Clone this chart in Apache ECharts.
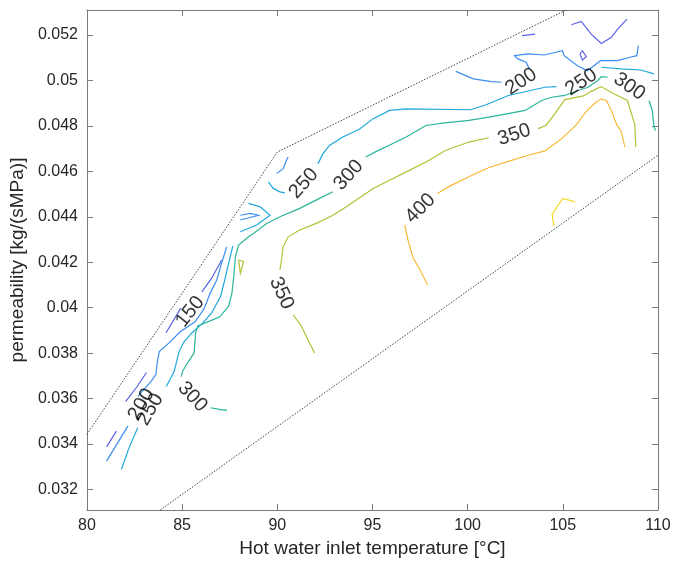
<!DOCTYPE html>
<html>
<head>
<meta charset="utf-8">
<script src="https://cdn.jsdelivr.net/npm/echarts@6/dist/echarts.min.js"></script>
<style>
html,body{margin:0;padding:0;background:#fff;}
#chart{width:688px;height:564px;}
</style>
</head>
<body>
<div id="chart"></div>
<script>
// ---- axis ticks ----
const xTicks = [80, 85, 90, 95, 100, 105, 110];
const yTicks = [0.032, 0.034, 0.036, 0.038, 0.04, 0.042, 0.044, 0.046, 0.048, 0.05, 0.052];

// ---- contour levels (each: list of polyline segments of [temperature, permeability]) ----
const contourLevels = [150, 200, 250, 300, 350, 400, 450];

const level150 = [
  [[102.85,0.05197],[103.54,0.05204]],
  [[105.45,0.05245],[105.97,0.0526],[106.49,0.05204],[107.02,0.05163],[107.54,0.05189],[107.88,0.05226],[108.37,0.0527]],
  [[105.90,0.05117],[106.03,0.05131],[106.23,0.05105],[106.03,0.0509],[105.90,0.05117]],
  [[81.03,0.03388],[81.55,0.03457]],
  [[82.03,0.03587],[82.60,0.03649],[83.13,0.03715]],
  [[84.15,0.03889],[84.93,0.03998]],
  [[86.04,0.0407],[86.56,0.04131],[87.08,0.0421]]
];

const level200 = [
  [[99.38,0.0504],[100.30,0.05007],[101.25,0.04995],[101.77,0.04992]],
  [[103.24,0.05051],[103.07,0.0508],[102.64,0.05095],[102.46,0.05109],[103.16,0.05117],[104.03,0.05112],[104.98,0.05131],[105.07,0.05109],[105.77,0.05065],[106.29,0.05043],[106.98,0.05087],[107.85,0.05087],[108.54,0.05102],[108.89,0.05109],[108.97,0.05153]],
  [[89.96,0.0459],[90.31,0.04612],[90.48,0.04649],[90.57,0.04663]],
  [[88.06,0.04407],[88.58,0.04415],[89.01,0.04407],[88.06,0.04386]],
  [[87.34,0.04267],[87.03,0.04184],[86.82,0.04122],[86.46,0.04061],[86.15,0.03995],[85.68,0.03938],[84.90,0.03894],[84.27,0.03842],[83.80,0.03807],[83.70,0.03763],[83.62,0.03706],[83.37,0.03676],[82.67,0.0361]],
  [[82.15,0.03479],[81.03,0.03325]]
];

const level250 = [
  [[89.53,0.04554],[89.79,0.04525],[90.14,0.0451],[90.40,0.04505]],
  [[92.14,0.04634],[92.40,0.04678],[92.74,0.04714],[93.44,0.04751],[94.31,0.04785],[95.04,0.04832],[95.90,0.04868],[96.77,0.04875],[100.16,0.04871],[100.94,0.04892],[102.14,0.04934],[102.84,0.04947],[104.06,0.0497],[104.67,0.04973]],
  [[107.02,0.05058],[108.06,0.05051],[109.10,0.05046],[109.79,0.05029]],
  [[88.49,0.04459],[89.10,0.04444],[89.62,0.04407],[88.92,0.04364],[88.06,0.04334]],
  [[87.66,0.04271],[87.45,0.04197],[87.24,0.04122],[87.03,0.04052],[86.56,0.03978],[86.04,0.03929],[85.52,0.0389],[85.10,0.0385],[84.84,0.03807],[84.58,0.03719],[84.17,0.03653]],
  [[82.67,0.03472],[82.24,0.0339],[81.81,0.03289]]
];

const level300 = [
  [[84.96,0.03697],[85.02,0.0372],[85.28,0.03757],[85.63,0.03801],[85.71,0.03889],[85.83,0.03921],[86.41,0.0394],[86.98,0.0396],[87.45,0.04008],[87.62,0.04065],[87.71,0.04137],[87.80,0.04225],[87.97,0.04276],[88.49,0.04312],[88.75,0.04327],[89.44,0.04371],[90.14,0.044],[91.18,0.04437],[92.22,0.04481],[92.92,0.0451]],
  [[94.64,0.04663],[95.26,0.0469],[95.99,0.04719],[96.77,0.04751],[97.81,0.04802],[98.68,0.04812],[100.07,0.04824],[101.11,0.04839],[101.63,0.04846],[103.02,0.04868],[103.89,0.04912],[104.41,0.04926],[105.10,0.04934],[105.80,0.04956],[106.32,0.0497],[106.84,0.05],[107.02,0.05017],[107.36,0.05014]],
  [[109.53,0.04912],[109.70,0.04868],[109.79,0.04795],[109.88,0.0478]],
  [[86.49,0.0356],[87.02,0.03552],[87.36,0.03548]]
];

const level350 = [
  [[90.14,0.04166],[90.22,0.0421],[90.31,0.04268],[90.57,0.04312],[91.18,0.04342],[92.05,0.04371],[92.92,0.04407],[93.61,0.04443],[94.65,0.04503],[95.04,0.04525],[95.90,0.04561],[97.12,0.04612],[97.98,0.04649],[98.85,0.04693],[100.07,0.04729],[101.11,0.04748]],
  [[103.70,0.04788],[104.11,0.04802],[104.58,0.04853],[105.10,0.04916],[106.09,0.04932],[106.46,0.04951],[107.01,0.04973],[107.60,0.04945],[108.39,0.04912],[108.78,0.04807],[108.83,0.04707]],
  [[90.83,0.03969],[91.27,0.03918],[91.61,0.03859],[91.96,0.03801]],
  [[87.97,0.0421],[88.23,0.04203],[88.06,0.04152],[87.97,0.0421]]
];

const level400 = [
  [[97.89,0.041],[97.53,0.04162],[97.14,0.04219],[96.88,0.04293],[96.69,0.04364]],
  [[98.41,0.04503],[99.06,0.04535],[100.23,0.04583],[101.09,0.04616],[102.14,0.04644],[103.18,0.04671],[104.06,0.0469],[104.90,0.04741],[105.68,0.04802],[106.20,0.04861],[106.69,0.04901],[107.0,0.04918],[107.29,0.04912],[107.55,0.04868],[107.81,0.0481],[108.07,0.04776],[108.26,0.04707]]
];

const level450 = [
  [[105.63,0.04466],[105.0,0.04481],[104.44,0.04412],[104.53,0.04359]]
];

// ---- contour labels ----
const labelText  = ['150','200','250','300','250','300','350','400','200','350','250','300'];
const labelX     = [85.42, 82.86, 83.33, 85.54, 91.39, 93.75, 90.22, 97.52, 102.81, 102.45, 105.97, 108.49];
const labelY     = [0.03982, 0.03574, 0.03552, 0.03608, 0.04547, 0.04583, 0.04064, 0.04437, 0.04995, 0.04761, 0.04992, 0.04973];
const labelAngle = [52, 60, 60, -47, 48, 48, -65, 45, 33, 18, 33, -35];

// ---- feasible-region boundaries (dotted) ----
const upperEdge = [[80,0.03443],[90,0.04685],[105.17,0.0531]];
const lowerEdge = [[83.85,0.0311],[110,0.04671]];

const levelSegments = [level150, level200, level250, level300, level350, level400, level450];
const levelColors = ['#5b63e8', '#3c8ef0', '#1fa8dc', '#2bb59a', '#b5c136', '#f9b93a', '#f2d927'];

const FONT = 'Liberation Sans, Arial, Helvetica, sans-serif';
const AX = '#7a7a7a';
const TXT = '#262626';

const series = [];
levelSegments.forEach((segs, i) => {
  series.push({
    type: 'lines',
    name: String(contourLevels[i]),
    coordinateSystem: 'cartesian2d',
    polyline: true,
    silent: true,
    data: segs.map(c => ({ coords: c })),
    lineStyle: { color: levelColors[i], width: 1.2, opacity: 1 }
  });
});
series.push({
  type: 'lines',
  coordinateSystem: 'cartesian2d',
  polyline: true,
  silent: true,
  data: [{ coords: upperEdge }, { coords: lowerEdge }],
  lineStyle: { color: '#444', width: 1, type: [1.5, 1.5], opacity: 1 }
});
series.push({
  type: 'scatter',
  silent: true,
  symbolSize: 1,
  itemStyle: { color: 'rgba(0,0,0,0)' },
  data: labelText.map((t, i) => ({ name: t, value: [labelX[i], labelY[i]], label: { rotate: labelAngle[i] } })),
  label: {
    show: true, position: 'inside', formatter: '{b}',
    fontSize: 20, color: '#000', fontFamily: FONT
  },
  z: 10
});

const chart = echarts.init(document.getElementById('chart'), null, { renderer: 'canvas' });
chart.setOption({
  animation: false,
  backgroundColor: '#fff',
  grid: { left: 82, right: 30, top: 10, bottom: 54, containLabel: false },
  xAxis: [
    {
      type: 'value', min: xTicks[0], max: xTicks[xTicks.length - 1], interval: 5, position: 'bottom',
      name: 'Hot water inlet temperature [°C]', nameLocation: 'middle', nameGap: 29,
      nameTextStyle: { fontSize: 19, color: TXT, fontFamily: FONT },
      axisLine: { show: true, onZero: false, lineStyle: { color: AX, width: 1 } },
      axisTick: { show: true, inside: true, length: 6, lineStyle: { color: AX } },
      axisLabel: { fontSize: 16, color: TXT, margin: 8, fontFamily: FONT },
      splitLine: { show: false }
    },
    {
      type: 'value', min: xTicks[0], max: xTicks[xTicks.length - 1], interval: 5, position: 'top',
      axisLine: { show: true, onZero: false, lineStyle: { color: AX, width: 1 } },
      axisTick: { show: true, inside: true, length: 6, lineStyle: { color: AX } },
      axisLabel: { show: false },
      splitLine: { show: false }
    }
  ],
  yAxis: [
    {
      type: 'value', min: 0.0311, max: 0.0531, position: 'left',
      name: 'permeability [kg/(sMPa)]', nameLocation: 'middle', nameGap: 49,
      nameTextStyle: { fontSize: 19, color: TXT, fontFamily: FONT },
      axisLine: { show: true, onZero: false, lineStyle: { color: AX, width: 1 } },
      axisTick: { show: true, inside: true, length: 6, lineStyle: { color: AX }, customValues: yTicks },
      axisLabel: { fontSize: 16, color: TXT, margin: 9, fontFamily: FONT, customValues: yTicks },
      splitLine: { show: false }
    },
    {
      type: 'value', min: 0.0311, max: 0.0531, position: 'right',
      axisLine: { show: true, onZero: false, lineStyle: { color: AX, width: 1 } },
      axisTick: { show: true, inside: true, length: 6, lineStyle: { color: AX }, customValues: yTicks },
      axisLabel: { show: false, customValues: yTicks },
      splitLine: { show: false }
    }
  ],
  series: series
});
</script>
</body>
</html>
